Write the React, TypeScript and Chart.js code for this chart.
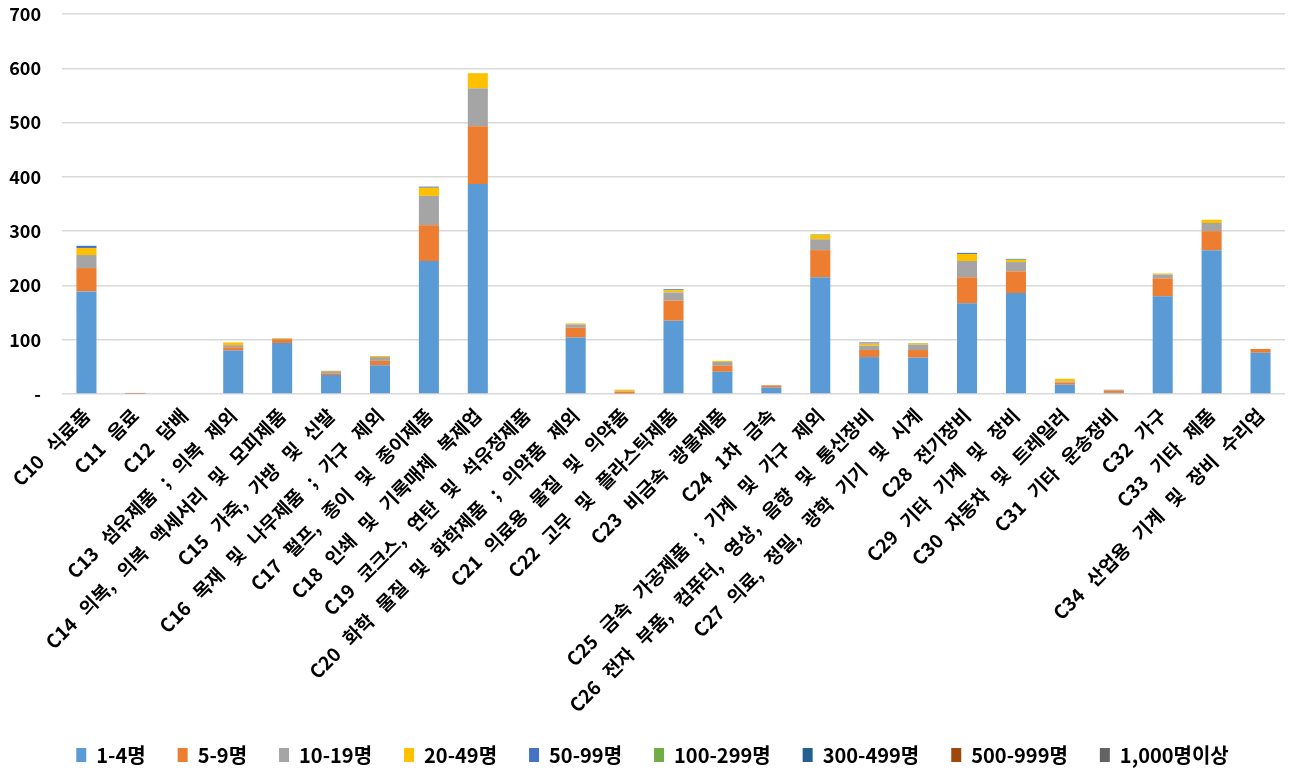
import React, { useEffect, useRef } from "react";
import { Chart, registerables } from "chart.js";

Chart.register(...registerables);

const categories: string[] = [
  "C10 식료품",
  "C11 음료",
  "C12 담배",
  "C13 섬유제품 ; 의복 제외",
  "C14 의복, 의복 액세서리 및 모피제품",
  "C15 가죽, 가방 및 신발",
  "C16 목재 및 나무제품 ; 가구 제외",
  "C17 펄프, 종이 및 종이제품",
  "C18 인쇄 및 기록매체 복제업",
  "C19 코크스, 연탄 및 석유정제품",
  "C20 화학 물질 및 화학제품 ; 의약품 제외",
  "C21 의료용 물질 및 의약품",
  "C22 고무 및 플라스틱제품",
  "C23 비금속 광물제품",
  "C24 1차 금속",
  "C25 금속 가공제품 ; 기계 및 가구 제외",
  "C26 전자 부품, 컴퓨터, 영상, 음향 및 통신장비",
  "C27 의료, 정밀, 광학 기기 및 시계",
  "C28 전기장비",
  "C29 기타 기계 및 장비",
  "C30 자동차 및 트레일러",
  "C31 기타 운송장비",
  "C32 가구",
  "C33 기타 제품",
  "C34 산업용 기계 및 장비 수리업",
];

const seriesNames: string[] = [
  "1-4명",
  "5-9명",
  "10-19명",
  "20-49명",
  "50-99명",
  "100-299명",
  "300-499명",
  "500-999명",
  "1,000명이상",
];

const seriesColors: string[] = [
  "#5B9BD5",
  "#ED7D31",
  "#A5A5A5",
  "#FFC000",
  "#4472C4",
  "#70AD47",
  "#255E91",
  "#9E480E",
  "#636363",
];

const s1to4: number[] = [189, 1, 0, 80, 94, 35, 53, 245, 387, 0, 104, 1, 135, 41, 12, 215, 68, 67, 167, 186, 17, 2, 180, 265, 76];
const s5to9: number[] = [43, 1, 0, 6, 7, 3, 8, 66, 106, 0, 18, 3, 37, 11, 4, 50, 13, 14, 48, 40, 4, 4, 33, 35, 7];
const s10to19: number[] = [24, 0, 0, 4, 1, 4, 7, 54, 70, 0, 6, 1, 15, 7, 0, 20, 8, 10, 30, 17, 2, 2, 7, 15, 0];
const s20to49: number[] = [13, 0, 0, 5, 1, 1, 2, 15, 28, 0, 2, 3, 4, 2, 0, 8, 4, 2, 13, 4, 5, 0, 2, 6, 0];
const s50to99: number[] = [4, 0, 0, 0, 0, 0, 0, 2, 0, 0, 0, 0, 2, 0, 0, 0, 2, 0, 2, 1, 0, 0, 0, 0, 0];
const s100to299: number[] = [0, 0, 0, 0, 0, 0, 0, 0, 0, 0, 0, 0, 0, 0, 0, 1, 0, 1, 0, 1, 0, 0, 0, 0, 0];
const s300to499: number[] = [0, 0, 0, 0, 0, 0, 0, 0, 0, 0, 0, 0, 0, 0, 0, 0, 0, 0, 0, 0, 0, 0, 0, 0, 0];
const s500to999: number[] = [0, 0, 0, 0, 0, 0, 0, 0, 0, 0, 0, 0, 0, 0, 0, 0, 0, 0, 0, 0, 0, 0, 0, 0, 0];
const s1000plus: number[] = [0, 0, 0, 0, 0, 0, 0, 0, 0, 0, 0, 0, 0, 0, 0, 0, 0, 0, 0, 0, 0, 0, 0, 0, 0];

const seriesValues: number[][] = [s1to4, s5to9, s10to19, s20to49, s50to99, s100to299, s300to499, s500to999, s1000plus];

const yTicks: number[] = [0, 100, 200, 300, 400, 500, 600, 700];

const FONT = "'Noto Sans CJK KR', 'Noto Sans', sans-serif";

const legendTweakPlugin = {
  id: "legendTweak",
  beforeInit(chart: any) {
    const legend = chart.legend;
    if (!legend) return;
    const origFit = legend.fit;
    legend.fit = function () {
      origFit.call(this);
      this.height = 66;
    };
    const origDraw = legend.draw;
    legend.draw = function () {
      const ctx = chart.ctx;
      ctx.save();
      ctx.translate(10, 0);
      origDraw.call(this);
      ctx.restore();
    };
  },
};

const wordSpacingPlugin = {
  id: "wordSpacing",
  beforeDraw(chart: any) {
    (chart.ctx as any).wordSpacing = "8px";
  },
  beforeDatasetsDraw(chart: any) {
    (chart.ctx as any).wordSpacing = "0px";
  },
};

export default function App() {
  const ref = useRef<HTMLCanvasElement | null>(null);

  useEffect(() => {
    document.body.style.margin = "0";
    if (!ref.current) return;
    const chart = new Chart(ref.current, {
      type: "bar",
      data: {
        labels: categories,
        datasets: seriesNames.map((name, i) => ({
          label: name,
          data: seriesValues[i],
          backgroundColor: seriesColors[i],
          borderWidth: 0,
          barPercentage: 0.41,
          categoryPercentage: 1,
        })),
      },
      plugins: [legendTweakPlugin, wordSpacingPlugin],
      options: {
        responsive: false,
        animation: false,
        maintainAspectRatio: false,
        layout: { padding: { top: 14, right: 10, left: 0, bottom: 0 } },
        plugins: {
          tooltip: { enabled: false },
          legend: {
            position: "bottom",
            labels: {
              color: "#000",
              boxWidth: 10,
              boxHeight: 14,
              padding: 32,
              font: { family: FONT, size: 20, weight: "bold" },
            },
          },
        },
        scales: {
          x: {
            stacked: true,
            grid: { display: false },
            border: { display: false },
            afterFit: (scale: any) => {
              scale.height = 319;
            },
            ticks: {
              autoSkip: false,
              maxRotation: 45,
              minRotation: 45,
              color: "#000",
              padding: 2,
              font: { family: FONT, size: 19, weight: "bold" },
            },
          },
          y: {
            stacked: true,
            min: 0,
            max: 700,
            afterBuildTicks: (scale: any) => {
              scale.ticks = yTicks.map((v) => ({ value: v }));
            },
            afterFit: (scale: any) => {
              scale.width = 62;
              scale.paddingTop = 0;
              scale.paddingBottom = 0;
            },
            grid: { color: "#D9D9D9", lineWidth: 1.5, drawTicks: false },
            border: { display: false },
            ticks: {
              color: "#000",
              padding: 21,
              font: { family: FONT, size: 18, weight: "bold" },
              callback: (v: any) => (Number(v) === 0 ? "-" : String(v)),
            },
          },
        },
      },
    });
    return () => chart.destroy();
  }, []);

  return (
    <div style={{ position: "fixed", left: 0, top: 0, width: 1295, height: 779, background: "#fff" }}>
      <canvas ref={ref} width={1295} height={779} style={{ width: 1295, height: 779 }} />
    </div>
  );
}
